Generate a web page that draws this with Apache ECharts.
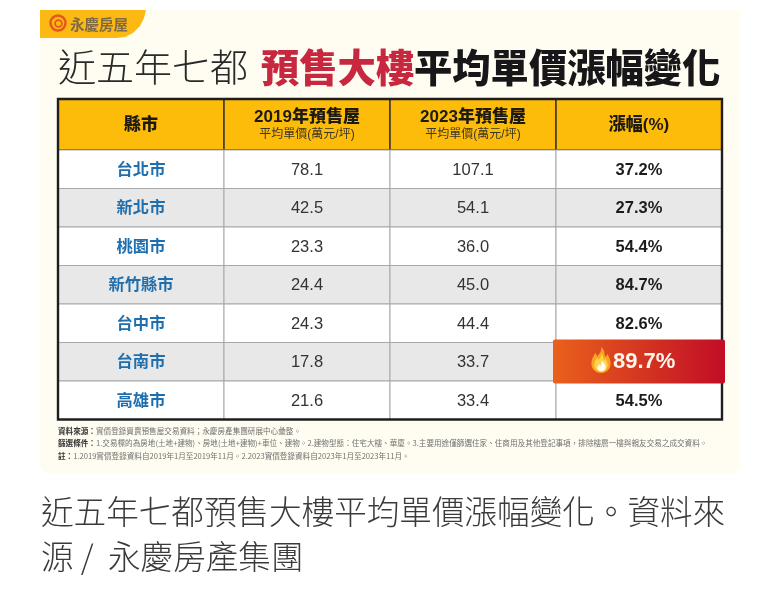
<!DOCTYPE html>
<html lang="zh-Hant">
<head>
<meta charset="utf-8">
<title>近五年七都預售大樓平均單價漲幅變化</title>
<style>
  html, body { margin: 0; padding: 0; background: #fff; }
  #chart { width: 780px; height: 594px; }
</style>
<script src="https://cdn.jsdelivr.net/npm/echarts@6/dist/echarts.min.js"></script>
</head>
<body>
<div id="chart"></div>
<script>
const columns = ['縣市', '2019年預售屋', '2023年預售屋', '漲幅(%)'];
const columnNotes = ['', '平均單價(萬元/坪)', '平均單價(萬元/坪)', ''];
const cities = ['台北市', '新北市', '桃園市', '新竹縣市', '台中市', '台南市', '高雄市'];
const price2019 = ['78.1', '42.5', '23.3', '24.4', '24.3', '17.8', '21.6'];
const price2023 = ['107.1', '54.1', '36.0', '45.0', '44.4', '33.7', '33.4'];
const growth = ['37.2%', '27.3%', '54.4%', '84.7%', '82.6%', '89.7%', '54.5%'];
const hottestCity = '台南市';

const titleParts = ['近五年七都', '預售大樓', '平均單價漲幅變化'];
const captionLines = ['近五年七都預售大樓平均單價漲幅變化。資料來', '源 /  永慶房產集團'];
const noteLabels = ['資料來源：', '篩選條件：', '註：'];
const noteTexts = [
  '實價登錄買賣預售屋交易資料；永慶房產集團研展中心彙整。',
  '1.交易標的為房地(土地+建物)、房地(土地+建物)+車位、建物。2.建物型態：住宅大樓、華廈。3.主要用途僅篩選住家、住商用及其他登記事項，排除樓層一樓與親友交易之成交資料。',
  '1.2019實價登錄資料自2019年1月至2019年11月。2.2023實價登錄資料自2023年1月至2023年11月。'
];

const CJK = '"Noto Sans CJK TC", "Noto Sans", sans-serif';
const LATIN = '"Liberation Sans", "Noto Sans CJK TC", sans-serif';
const FLAME = 'M10 0C11 5 8 7 6 10C5 8 5 7 4 6C2 10 0 13 0 17C0 23 4 27 10 27C16 27 20 23 20 17C20 13 18 11 17 7C16 9 15 10 14 10C14 6 13 2 10 0Z';
const FLAME_CORE = 'M6 0C7 3 10 4 10 8C10 11 8 13 5 13C2 13 0 11 0 8C0 6 2 6 2 4C3 5 3 6 4 6C5 4 5 2 6 0Z';

function cellRect(api) {
  const c = api.coord([api.value(0), api.value(1)]);
  const s = api.size([1, 1]);
  return { x: c[0] - s[0] / 2, y: c[1] - s[1] / 2, width: s[0], height: s[1] };
}

function renderHeader(params, api) {
  const r = cellRect(api);
  const col = api.value(0);
  const note = columnNotes[col];
  const cx = r.x + r.width / 2;
  const cy = r.y + r.height / 2;
  return {
    type: 'group',
    children: [
      { type: 'rect', shape: r, style: { fill: '#fdbb0a', stroke: '#3a3a30', lineWidth: 1.5 } },
      { type: 'text', style: { x: cx, y: note ? cy - 7.5 : cy + 1, text: columns[col], align: 'center', verticalAlign: 'middle',
          font: '900 17px ' + LATIN, fill: '#1d1a12' } },
      { type: 'text', style: { x: cx, y: cy + 10.5, text: note, align: 'center', verticalAlign: 'middle',
          font: '12px ' + LATIN, fill: '#3b3526' } }
    ]
  };
}

function renderBody(params, api) {
  const r = cellRect(api);
  const col = api.value(0);
  const row = api.value(1);
  const rowFill = row % 2 === 1 ? '#e8e8e8' : '#ffffff';
  const text = [cities, price2019, price2023, growth][col][row];
  let font = '16.5px ' + LATIN;
  let fill = '#333333';
  let dy = 1;
  if (col === 0) { font = 'bold 16.3px ' + CJK; fill = '#1f6fae'; dy = -0.5; }
  if (col === 3) { font = 'bold 16.5px ' + LATIN; fill = '#1c1c1c'; }
  return {
    type: 'group',
    children: [
      { type: 'rect', shape: r, style: { fill: rowFill, stroke: '#a8a8a8', lineWidth: 1 } },
      { type: 'text', style: { x: r.x + r.width / 2, y: r.y + r.height / 2 + dy, text: text, align: 'center', verticalAlign: 'middle', font: font, fill: fill } }
    ]
  };
}

function renderHot(params, api) {
  const r = cellRect(api);
  const x = r.x - 3;
  const y = r.y - 3;
  const w = r.width + 6;
  const h = r.height + 5.5;
  return {
    type: 'group',
    children: [
      { type: 'rect', shape: { x: x, y: y, width: w, height: h, r: 2 }, style: {
          fill: new echarts.graphic.LinearGradient(0, 0, 1, 0, [
            { offset: 0, color: '#e9611b' }, { offset: 1, color: '#c10d26' }
          ]) } },
      { type: 'path', shape: { pathData: FLAME, x: x + 38, y: y + 7.5, width: 20, height: 26 }, style: { fill: '#f9a51f' } },
      { type: 'path', shape: { pathData: FLAME, x: x + 41, y: y + 14, width: 14, height: 18 }, style: { fill: '#fdd34f' } },
      { type: 'path', shape: { pathData: FLAME_CORE, x: x + 44, y: y + 21, width: 9, height: 11 }, style: { fill: '#fffbe8' } },
      { type: 'text', style: { x: x + 60, y: y + h / 2 + 0.5, text: growth[api.value(1)], align: 'left', verticalAlign: 'middle', font: 'bold 22px ' + LATIN, fill: '#fff6ec' } }
    ]
  };
}

function buildGraphic() {
  const els = [
    // panel
    { type: 'rect', z: -10, shape: { x: 40, y: 10, width: 700, height: 464, r: [0, 0, 10, 10] }, style: { fill: '#fffdf1' } },
    // logo tab
    { type: 'polygon', z: -9, shape: { points: [[40, 10], [146, 10], [144, 18], [140, 26], [133, 33], [125, 37], [116, 38], [40, 38]] }, style: { fill: '#fdb913' } },
    { type: 'circle', shape: { cx: 58, cy: 23, r: 7.5 }, style: { fill: 'none', stroke: '#e8541e', lineWidth: 2.4 } },
    { type: 'circle', shape: { cx: 58.5, cy: 23.5, r: 3.4 }, style: { fill: 'none', stroke: '#e8541e', lineWidth: 1.8 } },
    { type: 'text', style: { x: 70, y: 24, text: '永慶房屋', verticalAlign: 'middle', font: 'bold 14.5px ' + CJK, fill: '#7f6a44' } },
    // title
    { type: 'text', style: { x: 58, y: 67, text: titleParts[0], verticalAlign: 'middle', font: '300 38px ' + CJK, fill: '#2a2a2a' } },
    { type: 'text', style: { x: 261, y: 67, text: titleParts[1], verticalAlign: 'middle', font: '900 38.3px ' + CJK, fill: '#c8283f' } },
    { type: 'text', style: { x: 414, y: 67, text: titleParts[2], verticalAlign: 'middle', font: '900 38.3px ' + CJK, fill: '#17171a' } },
    // table outline
    { type: 'rect', z: 20, shape: { x: 58, y: 99, width: 664, height: 320.5 }, style: { fill: 'none', stroke: '#1e1e1e', lineWidth: 2.4 } }
  ];
  noteTexts.forEach((t, i) => {
    els.push({ type: 'text', style: {
      x: 58, y: 431 + i * 12.5, verticalAlign: 'middle',
      text: '{b|' + noteLabels[i] + '}{n|' + t + '}',
      rich: {
        b: { font: 'bold 7.6px ' + CJK, fill: '#333333' },
        n: { font: '7.6px ' + CJK, fill: '#707070' }
      }
    } });
  });
  captionLines.forEach((t, i) => {
    els.push({ type: 'text', style: { x: 41, y: 512 + i * 45, text: t, verticalAlign: 'middle', font: '300 32.6px ' + CJK, fill: '#3a3a3a' } });
  });
  return els;
}

const headerData = columns.map((c, i) => [i, 0]);
const bodyData = [];
cities.forEach((c, row) => {
  columns.forEach((h, col) => bodyData.push([col, row]));
});
const hotRow = cities.indexOf(hottestCity);

const chart = echarts.init(document.getElementById('chart'), null, { renderer: 'canvas' });
chart.setOption({
  animation: false,
  backgroundColor: '#ffffff',
  grid: [
    { left: 58, top: 99, width: 664, height: 51 },
    { left: 58, top: 150, width: 664, height: 269.5 }
  ],
  xAxis: [
    { type: 'category', gridIndex: 0, data: columns, show: false },
    { type: 'category', gridIndex: 1, data: columns, show: false }
  ],
  yAxis: [
    { type: 'category', gridIndex: 0, data: ['header'], show: false },
    { type: 'category', gridIndex: 1, data: cities, inverse: true, show: false }
  ],
  graphic: buildGraphic(),
  series: [
    { type: 'custom', xAxisIndex: 0, yAxisIndex: 0, renderItem: renderHeader, data: headerData, silent: true, z: 2 },
    { type: 'custom', xAxisIndex: 1, yAxisIndex: 1, renderItem: renderBody, data: bodyData, silent: true, z: 2 },
    { type: 'custom', xAxisIndex: 1, yAxisIndex: 1, renderItem: renderHot, silent: true, z: 30,
      data: [[3, hotRow]] }
  ]
});
window.addEventListener('resize', () => chart.resize());
</script>
</body>
</html>
